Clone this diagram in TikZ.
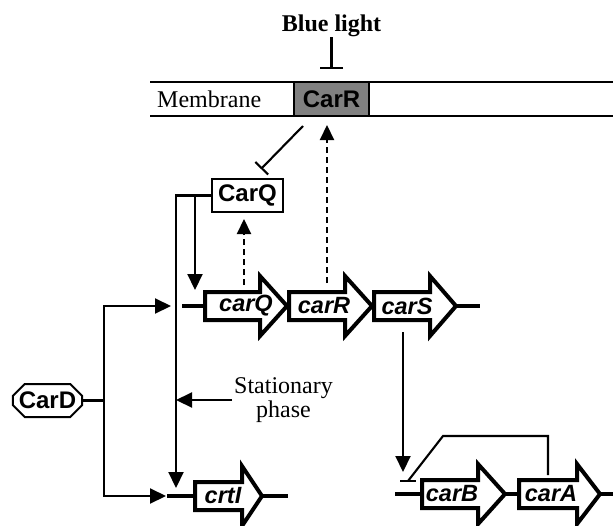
\documentclass[tikz,border=0pt]{standalone}
\usepackage{fontspec}
\setmainfont{Liberation Serif}
\setsansfont{Liberation Sans}
\usetikzlibrary{arrows.meta,calc,shapes.misc}

% gene as a block arrow: name, left x, head x, tip x, y, label x, label
\newcommand{\gene}[7]{%
  \draw[genebox] (#2,#5-14) -- (#3,#5-14) -- (#3,#5-30) -- (#4,#5)
    -- (#3,#5+30) -- (#3,#5+14) -- (#2,#5+14) -- cycle;
  \coordinate (#1-l) at (#2,#5);
  \coordinate (#1-t) at (#4,#5);
  \node[genename] (#1) at (#6,#5) {#7};
}

\begin{document}
\begin{tikzpicture}[x=1pt,y=-1pt,
    every node/.style={font=\fontsize{24}{24}\selectfont},
    protein/.style={draw,line width=2pt,inner sep=0pt,
      font=\fontsize{24}{24}\selectfont\sffamily\bfseries},
    genebox/.style={draw,fill=white,line width=4pt},
    genename/.style={inner sep=0pt,
      font=\fontsize{23.5}{24}\selectfont\sffamily\bfseries\itshape},
    dna/.style={line width=3.8pt},
    link/.style={line width=2.1pt},
    act/.style={link,-{Triangle[length=16pt,width=15pt]}},
    react/.style={link,dash pattern=on 6pt off 4pt,-{Triangle[length=15pt,width=14pt]}},
    inhib/.style={link,-{Bar[width=#1]}},
    inhib/.default=16pt]
  \useasboundingbox (0,0) rectangle (613,525);

  % membrane with the photoreceptor
  \draw[link] (150,82) -- (613,82);
  \draw[link] (150,116) -- (613,116);
  \node[anchor=base west,inner sep=0pt] (mem) at (157,107) {Membrane};
  \node[protein,fill=black!50,minimum width=75pt,minimum height=34pt] (CarR) at (331.5,99) {CarR};
  \node[anchor=base,inner sep=1pt,font=\fontsize{24}{24}\selectfont\bfseries] (light) at (331.5,31) {Blue light};
  \draw[inhib=23pt] (light.south) -- ($(CarR.north)+(0,-12)$);

  % regulators
  \node[protein,minimum width=71pt,minimum height=33pt] (CarQ) at (247.5,195.5) {CarQ};
  \node[protein,chamfered rectangle,chamfered rectangle xsep=6pt,chamfered rectangle ysep=6pt,
    minimum width=69pt,minimum height=33pt] (CarD) at (47.5,400.5) {CarD};

  % genes
  \gene{carQ}{205}{260}{287}{306}{246}{carQ}
  \gene{carR}{289}{345}{372}{306}{324}{carR}
  \gene{carS}{374}{430}{456}{306}{407}{carS}
  \gene{crtI}{195}{242}{262}{496}{223}{crtI}
  \gene{carB}{422}{478}{505}{494}{452}{carB}
  \gene{carA}{519}{577}{600}{494}{551}{carA}

  % DNA
  \coordinate (opQ) at (182,306);
  \coordinate (endS) at (480,306);
  \coordinate (opI) at (167,496);
  \coordinate (endI) at (288,496);
  \coordinate (opB) at (395,494);
  \coordinate (endA) at (613,494);
  \draw[dna] (opQ) -- (carQ-l);
  \draw[dna] (carS-t) -- (endS);
  \draw[dna] (opI) -- (crtI-l);
  \draw[dna] (crtI-t) -- (endI);
  \draw[dna] (opB) -- (carB-l);
  \draw[dna] (carB-t) -- (carA-l);
  \draw[dna] (carA-t) -- (endA);

  % CarD on both promoters
  \coordinate (inQ) at (171,306);
  \coordinate (inI) at (166,496);
  \draw[act] (CarD.east) -- ++(21,0) |- (inQ);
  \draw[act] (CarD.east) -- ++(21,0) |- (inI);

  % CarQ on both promoters
  \coordinate (qI) at (176,488);
  \coordinate (qQ) at (195,290);
  \draw[act] (CarQ.west) -| (qI);
  \draw[act] (CarQ.west -| qQ) -- (qQ);

  \node[align=center,anchor=west,inner sep=2pt] (stat) at (232,400) {Stationary\\phase};
  \draw[act] (stat.west) -- (stat.west -| qI);

  % light signalling
  \coordinate (Rup) at (327,283);
  \coordinate (Qup) at (244,285);
  \draw[react] (Rup) -- ($(CarR.south -| Rup)+(0,8)$);
  \draw[react] (Qup) -- ($(CarQ.south -| Qup)+(0,6)$);
  \draw[inhib=18pt] ($(CarR.south west)+(10,9)$) -- ($(CarQ.north west)+(50,-9)$);

  % carS to carB, carA feedback
  \coordinate (Sout) at (403,332);
  \coordinate (Bin) at (403,472);
  \coordinate (Aout) at (548,475);
  \coordinate (Bbar) at (408,481);
  \draw[act] (Sout) -- (Bin);
  \draw[link] (Aout) |- (443,436) -- (Bbar);
  \draw[link] ([xshift=-8pt]Bbar) -- ([xshift=8pt]Bbar);
\end{tikzpicture}
\end{document}
